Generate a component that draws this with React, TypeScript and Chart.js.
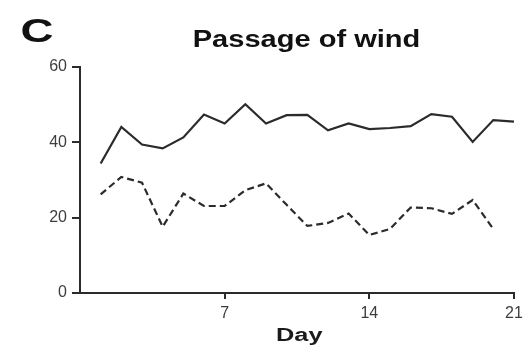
import React, { useEffect, useRef } from "react";
import { Chart, registerables } from "chart.js";

Chart.register(...registerables);

// Daily wind passage over the three-week period
const days: number[] = [1, 2, 3, 4, 5, 6, 7, 8, 9, 10, 11, 12, 13, 14, 15, 16, 17, 18, 19, 20, 21];
const solidSeries: number[] = [
  34.4, 44.1, 39.4, 38.4, 41.3, 47.4, 45.0, 50.1, 45.0, 47.2, 47.3,
  43.2, 45.0, 43.5, 43.8, 44.3, 47.5, 46.8, 40.1, 45.9, 45.5,
];
const dashedSeries: number[] = [
  26.2, 30.8, 29.3, 17.6, 26.4, 23.1, 23.1, 27.3, 29.1, 23.4, 17.8,
  18.6, 21.1, 15.4, 17.0, 22.7, 22.5, 21.0, 24.7, 17.0,
];
const xTicks: number[] = [7, 14, 21];
const yTicks: number[] = [0, 20, 40, 60];

const panelLabel = "C";
const chartTitle = "Passage of wind";
const xAxisTitle = "Day";

const INK = "#2b2b2b";
const TICK_TEXT = "#3d3d3d";
const FONT = "'Liberation Sans', Arial, Helvetica, sans-serif";

// Draws text whose ink spans exactly [left, right], stretched horizontally.
function drawStretchedText(
  ctx: CanvasRenderingContext2D,
  text: string,
  font: string,
  left: number,
  right: number,
  baseline: number,
  color: string
) {
  ctx.save();
  ctx.font = font;
  ctx.fillStyle = color;
  ctx.textAlign = "left";
  ctx.textBaseline = "alphabetic";
  const m = ctx.measureText(text);
  const inkW = m.actualBoundingBoxLeft + m.actualBoundingBoxRight;
  const sx = (right - left) / inkW;
  ctx.translate(left, baseline);
  ctx.scale(sx, 1);
  ctx.fillText(text, m.actualBoundingBoxLeft, 0);
  ctx.restore();
}

const textPlugin = {
  id: "panelText",
  beforeDraw(chart: any) {
    const ctx = chart.ctx as CanvasRenderingContext2D;
    ctx.save();
    ctx.fillStyle = "#ffffff";
    ctx.fillRect(0, 0, chart.width, chart.height);
    ctx.restore();
  },
  afterDraw(chart: any) {
    const ctx = chart.ctx as CanvasRenderingContext2D;
    drawStretchedText(ctx, panelLabel, `bold 33px ${FONT}`, 22, 52.5, 41.5, "#111111");
    drawStretchedText(ctx, chartTitle, `bold 23px ${FONT}`, 194, 419, 47.3, "#111111");
    drawStretchedText(ctx, xAxisTitle, `bold 18px ${FONT}`, 277.5, 322.5, 340.5, "#1a1a1a");
  },
};

export default function App() {
  const canvasRef = useRef<HTMLCanvasElement | null>(null);

  useEffect(() => {
    document.body.style.margin = "0";
    const canvas = canvasRef.current;
    if (!canvas) return;

    const chart = new Chart(canvas, {
      type: "line",
      data: {
        datasets: [
          {
            label: "solid",
            data: days.map((d, i) => ({ x: d, y: solidSeries[i] })),
            borderColor: INK,
            borderWidth: 2.2,
            pointRadius: 0,
            tension: 0,
            fill: false,
          },
          {
            label: "dashed",
            data: dashedSeries.map((v, i) => ({ x: days[i], y: v })),
            borderColor: INK,
            borderWidth: 2.2,
            borderDash: [7, 4],
            pointRadius: 0,
            tension: 0,
            fill: false,
          },
        ],
      },
      options: {
        responsive: false,
        animation: false,
        events: [],
        layout: { padding: { top: 67, right: 14, left: 0, bottom: 0 } },
        plugins: {
          legend: { display: false },
          title: { display: false },
          tooltip: { enabled: false },
        },
        scales: {
          x: {
            type: "linear",
            min: 0,
            max: 21,
            afterBuildTicks: (axis: any) => {
              axis.ticks = xTicks.map((v) => ({ value: v }));
            },
            afterFit: (axis: any) => {
              axis.height = 54;
            },
            grid: {
              display: true,
              drawOnChartArea: false,
              drawTicks: true,
              tickLength: 6,
              color: INK,
              lineWidth: 2,
            },
            border: { display: true, color: INK, width: 2 },
            ticks: {
              color: TICK_TEXT,
              padding: 5,
              maxRotation: 0,
              autoSkip: false,
              font: { family: FONT, size: 16 },
            },
          },
          y: {
            type: "linear",
            min: 0,
            max: 60,
            afterBuildTicks: (axis: any) => {
              axis.ticks = yTicks.map((v) => ({ value: v }));
            },
            afterFit: (axis: any) => {
              axis.width = 80;
            },
            grid: {
              display: true,
              drawOnChartArea: false,
              drawTicks: true,
              tickLength: 8,
              color: INK,
              lineWidth: 2,
            },
            border: { display: true, color: INK, width: 2 },
            ticks: {
              color: TICK_TEXT,
              padding: 5,
              autoSkip: false,
              font: { family: FONT, size: 16 },
            },
          },
        },
      },
      plugins: [textPlugin],
    });

    return () => chart.destroy();
  }, []);

  return (
    <div style={{ position: "absolute", left: 0, top: 0, width: 528, height: 347 }}>
      <canvas ref={canvasRef} width={528} height={347} />
    </div>
  );
}
